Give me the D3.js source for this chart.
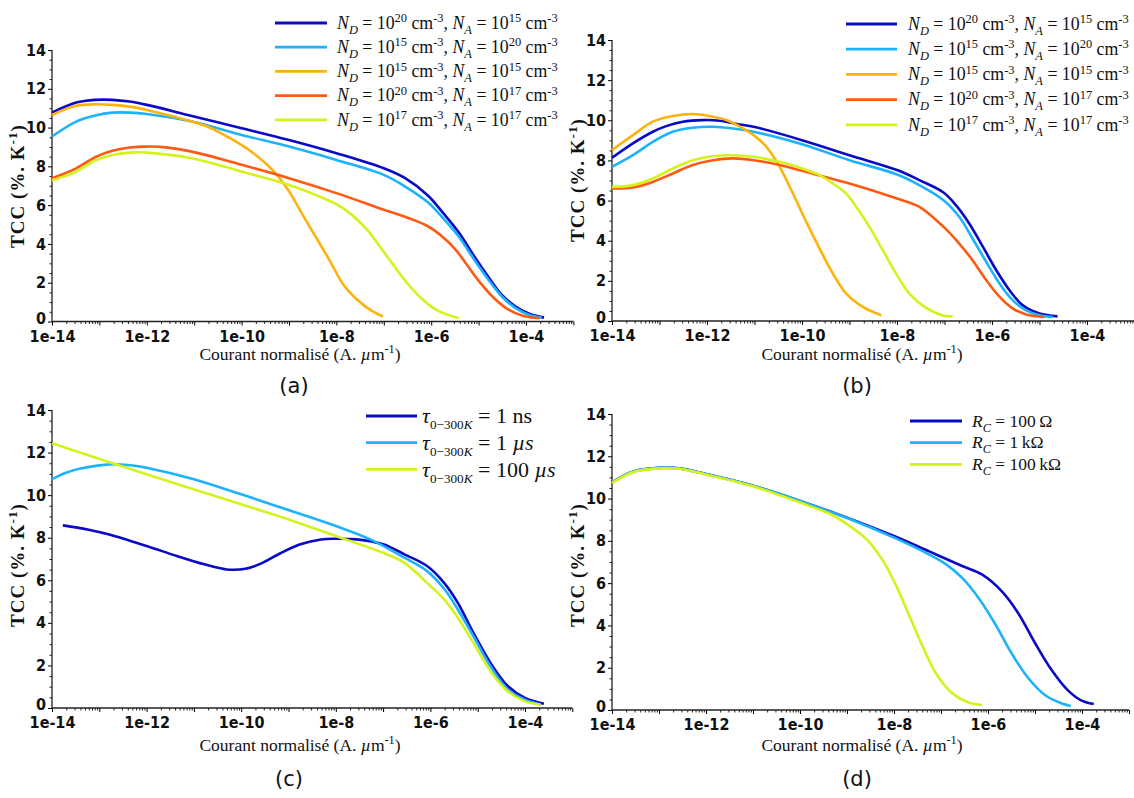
<!DOCTYPE html>
<html><head><meta charset="utf-8">
<script src="https://cdn.jsdelivr.net/npm/d3@7"></script>
<style>
body{margin:0;background:#fff;}
svg{display:block;}
text{white-space:pre;}
</style></head>
<body>
<svg id="chart" width="1134" height="798"></svg>
<script>
// ---------------- DATA ----------------
const yTickValues = [0, 2, 4, 6, 8, 10, 12, 14];
const xTickLabels = ["1e-14", "1e-12", "1e-10", "1e-8", "1e-6", "1e-4"];
const xTickLabelExps = [-14, -12, -10, -8, -6, -4];
const panelLetters = ["(a)", "(b)", "(c)", "(d)"];
const xTitle = "Courant normalisé";
const yTitle = "TCC";

// Panel (a): x = log10(current A/µm), y = TCC (%/K)
const aBlueX = [-14, -13.49, -13.09, -12.73, -12.36, -12, -11.05, -10, -9, -8, -7, -6.55, -6.07, -5.75, -5.42, -5.09, -4.8, -4.51, -4.22, -3.93, -3.62];
const aBlueY = [10.77, 11.29, 11.43, 11.43, 11.34, 11.17, 10.6, 9.97, 9.36, 8.68, 7.9, 7.39, 6.5, 5.6, 4.6, 3.35, 2.32, 1.37, 0.77, 0.4, 0.2];
const aSkyX = [-14, -13.49, -13.09, -12.73, -12.36, -12, -11.05, -10, -9, -8, -7, -6.55, -6.07, -5.75, -5.42, -5.09, -4.8, -4.51, -4.22, -3.93, -3.67];
const aSkyY = [9.54, 10.31, 10.62, 10.77, 10.77, 10.7, 10.31, 9.62, 9.02, 8.33, 7.56, 6.96, 6.15, 5.33, 4.38, 3.18, 2.18, 1.29, 0.69, 0.34, 0.2];
const aOrangeX = [-14, -13.49, -13.09, -12.73, -12.36, -12, -11.05, -10.69, -10.18, -9.75, -9.35, -9.02, -8.73, -8.44, -8.15, -7.85, -7.56, -7.27, -7.02];
const aOrangeY = [10.65, 11.12, 11.2, 11.17, 11.08, 10.91, 10.31, 10.02, 9.36, 8.68, 7.82, 6.79, 5.58, 4.38, 3.18, 1.89, 1.12, 0.57, 0.26];
const aRedX = [-14, -13.49, -13.09, -12.73, -12.36, -12, -11.64, -11.05, -10, -9, -8, -7, -6.5, -6.1, -5.8, -5.5, -5.24, -4.95, -4.65, -4.36, -4.07, -3.71];
const aRedY = [7.39, 7.9, 8.47, 8.8, 8.97, 9.02, 8.99, 8.76, 8.08, 7.39, 6.62, 5.76, 5.35, 4.95, 4.45, 3.75, 2.9, 1.95, 1.15, 0.6, 0.3, 0.17];
const aLimeX = [-14, -13.49, -13.09, -12.73, -12.36, -12, -11.05, -10, -9, -8.44, -8, -7.7, -7.35, -6.98, -6.62, -6.25, -5.89, -5.42];
const aLimeY = [7.27, 7.73, 8.3, 8.59, 8.71, 8.71, 8.42, 7.73, 7.04, 6.53, 6.05, 5.55, 4.73, 3.52, 2.32, 1.29, 0.6, 0.17];

// Panel (b)
const bBlueX = [-14, -13.56, -13.14, -12.86, -12.51, -12.09, -11.73, -11.31, -11.02, -10, -9, -8, -7.53, -7.02, -6.76, -6.48, -6.19, -5.91, -5.63, -5.35, -5, -4.62];
const bBlueY = [8.13, 8.85, 9.43, 9.71, 9.93, 10.01, 9.98, 9.79, 9.68, 9.01, 8.26, 7.52, 7.02, 6.4, 5.77, 4.86, 3.69, 2.53, 1.53, 0.78, 0.37, 0.23];
const bSkyX = [-14, -13.56, -13.14, -12.72, -12.3, -11.88, -11.45, -11.02, -10, -9, -8, -7.53, -7.02, -6.69, -6.41, -6.12, -5.84, -5.56, -5.28, -5, -4.72];
const bSkyY = [7.68, 8.26, 8.93, 9.43, 9.63, 9.68, 9.59, 9.43, 8.81, 8.01, 7.3, 6.77, 6.02, 5.19, 4.11, 2.94, 1.86, 1.03, 0.53, 0.28, 0.2];
const bOrangeX = [-14, -13.56, -13.14, -12.72, -12.3, -11.95, -11.59, -11.24, -11.02, -10.75, -10.47, -10.19, -9.91, -9.63, -9.35, -9.07, -8.72, -8.33];
const bOrangeY = [8.51, 9.26, 9.93, 10.21, 10.31, 10.21, 10.01, 9.59, 9.26, 8.68, 7.68, 6.35, 4.94, 3.61, 2.36, 1.36, 0.7, 0.28];
const bRedX = [-14, -13.56, -13.14, -12.72, -12.3, -11.88, -11.45, -11.02, -10.47, -10, -9, -8, -7.53, -7.02, -6.69, -6.41, -6.12, -5.84, -5.56, -5.28, -4.9];
const bRedY = [6.6, 6.65, 6.93, 7.35, 7.77, 8.01, 8.1, 8.01, 7.77, 7.48, 6.85, 6.1, 5.69, 4.69, 3.86, 3.03, 2.03, 1.2, 0.62, 0.33, 0.2];
const bLimeX = [-14, -13.56, -13.14, -12.72, -12.3, -11.88, -11.45, -11.02, -10.47, -10, -9.63, -9.35, -9.07, -8.86, -8.58, -8.3, -8.02, -7.74, -7.42, -7.04, -6.83];
const bLimeY = [6.68, 6.77, 7.1, 7.6, 8.01, 8.21, 8.26, 8.18, 7.93, 7.6, 7.27, 6.85, 6.35, 5.69, 4.69, 3.53, 2.36, 1.36, 0.7, 0.28, 0.23];

// Panel (c)
const cBlueX = [-13.77, -13.25, -12.81, -12, -11.36, -10.78, -10.31, -9.91, -9.55, -9.18, -8.75, -8.31, -8, -7.56, -7, -6.55, -6.07, -5.71, -5.42, -5.09, -4.73, -4.36, -4, -3.6];
const cBlueY = [8.58, 8.39, 8.16, 7.61, 7.14, 6.75, 6.51, 6.54, 6.82, 7.26, 7.69, 7.92, 7.95, 7.92, 7.69, 7.22, 6.67, 5.88, 4.94, 3.53, 2.12, 1.02, 0.47, 0.2];
const cSkyX = [-14, -13.69, -13.4, -13, -12.65, -12.21, -12, -11, -10, -9, -8, -7.27, -6.55, -6.07, -5.71, -5.42, -5.09, -4.73, -4.36, -4, -3.67];
const cSkyY = [10.75, 11.06, 11.25, 11.4, 11.45, 11.37, 11.29, 10.75, 10.04, 9.3, 8.55, 7.92, 7.06, 6.43, 5.6, 4.63, 3.37, 1.96, 0.86, 0.39, 0.16];
const cLimeX = [-14, -12, -10, -9, -8, -7, -6.55, -6.11, -5.71, -5.42, -5.09, -4.73, -4.36, -4, -3.67];
const cLimeY = [12.44, 10.98, 9.57, 8.86, 8.08, 7.29, 6.82, 5.96, 5.1, 4.24, 3.06, 1.73, 0.78, 0.31, 0.16];

// Panel (d)
const dBlueX = [-14, -13.56, -13, -12.58, -12, -11, -10, -9, -8, -7.25, -6.55, -6.13, -5.71, -5.36, -5, -4.65, -4.31, -4.03, -3.75];
const dBlueY = [10.76, 11.27, 11.45, 11.43, 11.16, 10.61, 9.89, 9.1, 8.23, 7.5, 6.81, 6.41, 5.62, 4.59, 3.17, 1.9, 0.95, 0.47, 0.28];
const dSkyX = [-14, -13.56, -13, -12.58, -12, -11, -10, -9, -8, -7.25, -6.9, -6.55, -6.2, -5.85, -5.5, -5.14, -4.79, -4.44, -4.24];
const dSkyY = [10.76, 11.27, 11.45, 11.43, 11.16, 10.61, 9.89, 9.08, 8.15, 7.35, 6.9, 6.25, 5.3, 4.08, 2.69, 1.5, 0.71, 0.32, 0.19];
const dLimeX = [-14, -13.56, -13, -12.58, -12, -11, -10, -9.35, -9, -8.58, -8.23, -7.95, -7.67, -7.39, -7.11, -6.76, -6.41, -6.13];
const dLimeY = [10.74, 11.25, 11.43, 11.41, 11.14, 10.58, 9.81, 9.26, 8.79, 8.07, 7.04, 5.86, 4.43, 3.01, 1.74, 0.79, 0.35, 0.24];

// Legend labels
const abND = ["20", "15", "15", "20", "17"];
const abNA = ["15", "20", "15", "17", "17"];
const cTau = ["1", "1", "100"];
const cTauUnit = ["ns", "µs", "µs"];
const dRc = ["100", "1", "100"];
const dRcUnit = ["Ω", "kΩ", "kΩ"];

// ---------------- STYLE / LAYOUT ----------------
const C = {blue: "#0a0ac6", sky: "#1eb2fb", orange: "#ffb30a", red: "#ff5a12", lime: "#d6f21c"};
const serif = "'Liberation Serif', 'DejaVu Serif', serif";
const narrow = "'Liberation Sans Narrow', 'DejaVu Sans Condensed', 'Liberation Sans', sans-serif";

const panels = [
  {x0: 52, dec: 47.4, xEnd: -3, yTop: 50, yBot: 321.5, lab: [294, 387], xt: [300, 360], yt: [24, 186],
   series: [[aBlueX, aBlueY, C.blue], [aSkyX, aSkyY, C.sky], [aOrangeX, aOrangeY, C.orange], [aRedX, aRedY, C.red], [aLimeX, aLimeY, C.lime]],
   legend: {x1: 275, x2: 327, tx: 337, y0: 23, dy: 24.2, fs: 17.8, kind: "N"}},
  {x0: 612, dec: 47.5, xEnd: -3, yTop: 40, yBot: 321, lab: [857, 387], xt: [862, 360], yt: [584, 180],
   series: [[bBlueX, bBlueY, C.blue], [bSkyX, bSkyY, C.sky], [bOrangeX, bOrangeY, C.orange], [bRedX, bRedY, C.red], [bLimeX, bLimeY, C.lime]],
   legend: {x1: 846, x2: 897, tx: 908, y0: 24, dy: 25.2, fs: 17.8, kind: "N"}},
  {x0: 52, dec: 47.3, xEnd: -3, yTop: 410, yBot: 708, lab: [289, 780], xt: [300, 751], yt: [24, 565],
   series: [[cBlueX, cBlueY, C.blue], [cSkyX, cSkyY, C.sky], [cLimeX, cLimeY, C.lime]],
   legend: {x1: 366, x2: 417, tx: 422, y0: 416, dy: 26.7, fs: 22, kind: "tau"}},
  {x0: 612, dec: 47.0, xEnd: -3, yTop: 414, yBot: 710, lab: [857, 780], xt: [862, 751], yt: [584, 565],
   series: [[dBlueX, dBlueY, C.blue], [dSkyX, dSkyY, C.sky], [dLimeX, dLimeY, C.lime]],
   legend: {x1: 910, x2: 962, tx: 972, y0: 421, dy: 21.7, fs: 17.5, kind: "R"}}
];

const svg = d3.select("#chart");

function rich(textSel, parts, fs) {
  let cur = 0;
  parts.forEach(p => {
    const target = p.sub ? fs * 0.28 : p.sup ? -fs * 0.38 : 0;
    const ts = textSel.append("tspan").attr("dy", target - cur).text(p.t);
    cur = target;
    if (p.it) ts.attr("font-style", "italic");
    if (p.sub || p.sup) ts.attr("font-size", fs * (p.small || 0.7));
    if (p.bold) ts.attr("font-weight", "bold");
  });
}

function legendParts(kind, i) {
  if (kind === "N") {
    return [{t: "N", it: 1}, {t: "D", it: 1, sub: 1}, {t: " = 10"}, {t: abND[i], sup: 1}, {t: " cm"}, {t: "-3", sup: 1},
            {t: ", "}, {t: "N", it: 1}, {t: "A", it: 1, sub: 1}, {t: " = 10"}, {t: abNA[i], sup: 1}, {t: " cm"}, {t: "-3", sup: 1}];
  }
  if (kind === "tau") {
    const u = cTauUnit[i];
    const up = u === "µs" ? [{t: "µ", it: 1}, {t: "s", it: 1}] : [{t: u}];
    return [{t: "τ", it: 1}, {t: "0−300", sub: 1, small: 0.6}, {t: "K", it: 1, sub: 1, small: 0.6}, {t: " = " + cTau[i] + " "}].concat(up);
  }
  return [{t: "R", it: 1}, {t: "C", it: 1, sub: 1}, {t: " = " + dRc[i] + "\u2009" + dRcUnit[i]}];
}

panels.forEach((P, pi) => {
  const xr = P.x0 + (P.xEnd + 14) * P.dec;
  const x = d3.scaleLog().domain([1e-14, Math.pow(10, P.xEnd)]).range([P.x0, xr]);
  const y = d3.scaleLinear().domain([0, 14]).range([P.yBot, P.yTop]);
  const g = svg.append("g");

  // minor y ticks
  const yMinor = d3.range(0, 14.01, 0.5).filter(v => v % 2 !== 0);
  g.append("g").attr("transform", `translate(${P.x0},0)`)
    .call(d3.axisLeft(y).tickValues(yMinor).tickSize(2.5).tickFormat(""))
    .call(s => s.select(".domain").remove())
    .selectAll("line").attr("stroke", "#222");
  const yAx = g.append("g").attr("transform", `translate(${P.x0},0)`)
    .call(d3.axisLeft(y).tickValues(yTickValues).tickSize(4).tickPadding(2).tickFormat(d3.format("d")));
  yAx.select(".domain").attr("stroke", "#222").attr("stroke-width", 1.3).attr("d", `M0,${P.yBot}V${P.yTop}`);
  yAx.selectAll("text").attr("font-family", narrow).attr("font-weight", "bold").attr("font-size", 16).attr("fill", "#111");
  yAx.selectAll(".tick").filter(d => d === 0).select("text").attr("dy", "0.1em");

  // minor x ticks
  const xMinor = [];
  for (let e = -14; e < P.xEnd; e++) for (let m = 2; m <= 9; m++) { const v = m * Math.pow(10, e); if (Math.log10(v) <= P.xEnd) xMinor.push(v); }
  const xMajor = d3.range(-14, Math.floor(P.xEnd) + 1).map(e => Math.pow(10, e));
  g.append("g").attr("transform", `translate(0,${P.yBot})`)
    .call(d3.axisBottom(x).tickValues(xMinor).tickSize(2.5).tickFormat(""))
    .call(s => s.select(".domain").remove())
    .selectAll("line").attr("stroke", "#222");
  const xAx = g.append("g").attr("transform", `translate(0,${P.yBot})`)
    .call(d3.axisBottom(x).tickValues(xMajor).tickSize(4).tickPadding(5)
      .tickFormat(d => { const e = Math.round(Math.log10(d)); const k = xTickLabelExps.indexOf(e); return k >= 0 ? xTickLabels[k] : ""; }));
  xAx.select(".domain").attr("stroke", "#222").attr("stroke-width", 1.3).attr("d", `M${P.x0},0H${xr}`);
  xAx.selectAll("text").attr("font-family", narrow).attr("font-weight", "bold").attr("font-size", 16).attr("fill", "#111");

  // lines
  const line = d3.line().x(d => x(Math.pow(10, d[0]))).y(d => y(d[1])).curve(d3.curveCatmullRom.alpha(0.5));
  P.series.forEach(([sx, sy, col]) => {
    g.append("path").datum(sx.map((v, i) => [v, sy[i]]))
      .attr("d", line).attr("fill", "none").attr("stroke", col).attr("stroke-width", 2.6).attr("stroke-linejoin", "round");
  });

  // legend
  const L = P.legend;
  P.series.forEach(([, , col], i) => {
    const yy = L.y0 + i * L.dy;
    g.append("line").attr("x1", L.x1).attr("x2", L.x2).attr("y1", yy).attr("y2", yy).attr("stroke", col).attr("stroke-width", 2.8);
    const t = g.append("text").attr("x", L.tx).attr("y", yy + L.fs * 0.33).attr("font-family", serif).attr("font-size", L.fs).attr("fill", "#111");
    rich(t, legendParts(L.kind, i), L.fs);
  });

  // x title
  const xt = g.append("text").attr("x", P.xt[0]).attr("y", P.xt[1]).attr("text-anchor", "middle")
    .attr("font-family", serif).attr("font-size", 17.5).attr("fill", "#111");
  rich(xt, [{t: xTitle + " (A. "}, {t: "µ", it: 1}, {t: "m"}, {t: "-1", sup: 1}, {t: ")"}], 17.5);

  // y title
  const yt = g.append("text").attr("transform", `translate(${P.yt[0]},${P.yt[1]}) rotate(-90)`).attr("text-anchor", "middle")
    .attr("font-family", serif).attr("font-size", 19).attr("font-weight", "bold").attr("letter-spacing", 1).attr("fill", "#111");
  rich(yt, [{t: yTitle + " (%. K"}, {t: "-1", sup: 1}, {t: ")"}], 19);

  // panel letter
  g.append("text").attr("x", P.lab[0]).attr("y", P.lab[1]).attr("text-anchor", "middle").attr("dominant-baseline", "middle")
    .attr("font-family", "'DejaVu Sans', sans-serif").attr("font-size", 21).attr("fill", "#111").text(panelLetters[pi]);
});
</script>
</body></html>
